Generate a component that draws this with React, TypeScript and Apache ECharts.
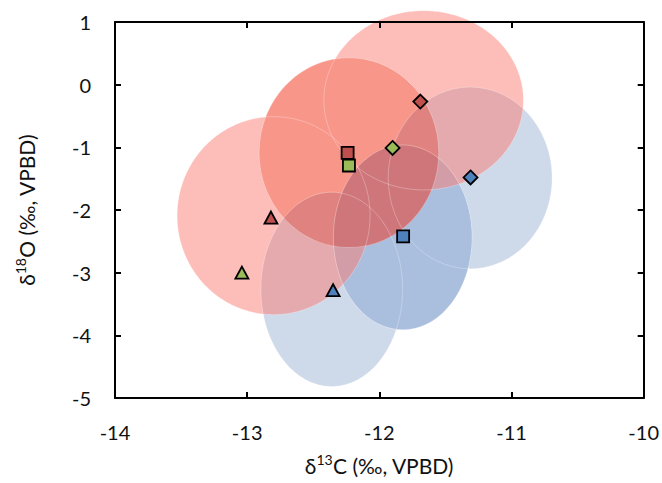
import { useEffect, useRef } from "react";
import * as echarts from "echarts";

// Marker positions (δ13C, δ18O)
const shapes = ["triangle", "rect", "diamond"];
const redPoints = [
  [-12.82, -2.12],
  [-12.24, -1.09],
  [-11.69, -0.27],
];
const greenPoints = [
  [-13.04, -3.0],
  [-12.23, -1.29],
  [-11.9, -1.01],
];
const bluePoints = [
  [-12.35, -3.28],
  [-11.82, -2.42],
  [-11.31, -1.48],
];

// Ellipses: centre x, centre y, semi-axis x, semi-axis y (data units)
const redEllipses = [
  [-12.8, -2.09, 0.73, 1.58],
  [-12.23, -1.085, 0.68, 1.515],
  [-11.665, -0.25, 0.755, 1.43],
];
const blueEllipses = [
  [-12.36, -3.266, 0.536, 1.55],
  [-11.823, -2.437, 0.525, 1.475],
  [-11.313, -1.488, 0.62, 1.45],
];
// index of the ellipse drawn on top inside each group
const TOP = 1;

const RED_ALPHA = 0.5;
const RED_LIGHT = "rgb(251,123,113)";
const RED_DARK = "rgb(241,45,21)";
const BLUE_LIGHT = "#CED9EA";
const BLUE_DARK = "#AABEDE";

const FONT = "Lato, 'Open Sans', sans-serif";

type E = { cx: number; cy: number; rx: number; ry: number };

function toPx(api: any, e: number[]): E {
  const c = api.coord([e[0], e[1]]);
  const s = api.size([e[2], e[3]]);
  return { cx: c[0], cy: c[1], rx: s[0], ry: s[1] };
}
function inside(m: E, p: number[]) {
  const dx = (p[0] - m.cx) / m.rx;
  const dy = (p[1] - m.cy) / m.ry;
  return dx * dx + dy * dy < 1;
}
function sample(e: E, n = 360) {
  const pts: number[][] = [];
  for (let i = 0; i < n; i++) {
    const t = (2 * Math.PI * i) / n;
    pts.push([e.cx + e.rx * Math.cos(t), e.cy + e.ry * Math.sin(t)]);
  }
  return pts;
}
function arc(pts: number[][], keep: (p: number[]) => boolean) {
  const n = pts.length;
  const f = pts.map(keep);
  if (f.every((v) => v)) return pts;
  if (!f.some((v) => v)) return [];
  const start = f.findIndex((v, i) => v && !f[(i - 1 + n) % n]);
  const out: number[][] = [];
  let i = start;
  while (f[i]) {
    out.push(pts[i]);
    i = (i + 1) % n;
    if (i === start) break;
  }
  return out;
}
// part of ellipse e lying outside ellipse m
function crescent(e: E, m: E) {
  const a = arc(sample(e), (p) => !inside(m, p));
  if (a.length === 360 || a.length === 0) return a;
  const b = arc(sample(m), (p) => inside(e, p));
  if (b.length) {
    const last = a[a.length - 1];
    const d0 = Math.hypot(b[0][0] - last[0], b[0][1] - last[1]);
    const d1 = Math.hypot(b[b.length - 1][0] - last[0], b[b.length - 1][1] - last[1]);
    if (d1 < d0) b.reverse();
  }
  return a.concat(b);
}

function groupSeries(ells: number[][], light: string, dark: string, alpha: number, z: number) {
  return {
    type: "custom",
    clip: false,
    silent: true,
    z,
    data: ells,
    renderItem: (params: any, api: any) => {
      const e = toPx(api, [api.value(0), api.value(1), api.value(2), api.value(3)]);
      if (params.dataIndex === TOP) {
        return {
          type: "ellipse",
          z2: 10,
          shape: e,
          style: { fill: dark, opacity: alpha },
        };
      }
      const m = toPx(api, ells[TOP]);
      return {
        type: "polygon",
        shape: { points: crescent(e, m) },
        style: { fill: light, opacity: alpha },
      };
    },
  };
}

function seamSeries(ells: number[][]) {
  return {
    type: "custom",
    clip: false,
    silent: true,
    z: 4,
    data: ells,
    renderItem: (params: any, api: any) => {
      const e = toPx(api, [api.value(0), api.value(1), api.value(2), api.value(3)]);
      return {
        type: "ellipse",
        shape: e,
        style: { fill: "none", stroke: "rgba(255,255,255,0.35)", lineWidth: 0.8 },
      };
    },
  };
}

function markerSeries(points: number[][], color: string) {
  return {
    type: "scatter",
    z: 6,
    data: points.map((p, i) => ({
      value: p,
      symbol: shapes[i],
      symbolSize: i === 0 ? [13, 12] : i === 1 ? 12 : [14, 14],
    })),
    itemStyle: { color, borderColor: "#000", borderWidth: 1.8, opacity: 1 },
  };
}

const axisLine = { show: true, onZero: false, lineStyle: { color: "#000", width: 2 } };
const axisTick = { show: true, inside: true, length: 6, lineStyle: { color: "#000", width: 2 } };

export default function App() {
  const ref = useRef<HTMLDivElement>(null);
  useEffect(() => {
    if (!ref.current) return;
    const chart = echarts.init(ref.current, null, { renderer: "svg" });
    const nameStyle = {
      fontSize: 21,
      fontFamily: FONT,
      color: "#111",
      rich: {
        a: { fontSize: 21, fontFamily: FONT, color: "#111", lineHeight: 26 },
        sup: {
          fontSize: 14,
          fontFamily: FONT,
          color: "#111",
          verticalAlign: "top",
          lineHeight: 26,
        },
      },
    };
    const labelStyle = { fontSize: 20, fontFamily: FONT, color: "#111", margin: 24 };
    chart.setOption({
      animation: false,
      grid: { left: 115, top: 22, right: 17, bottom: 85 },
      xAxis: [
        {
          type: "value",
          min: -14,
          max: -10,
          interval: 1,
          position: "bottom",
          axisLine,
          axisTick,
          splitLine: { show: false },
          axisLabel: labelStyle,
          name: "{a|δ}{sup|13}{a|C (‰, VPBD)}",
          nameLocation: "middle",
          nameGap: 54,
          nameTextStyle: nameStyle,
          z: 5,
        },
        {
          type: "value",
          min: -14,
          max: -10,
          interval: 1,
          position: "top",
          axisLine,
          axisTick,
          splitLine: { show: false },
          axisLabel: { show: false },
          z: 5,
        },
      ],
      yAxis: [
        {
          type: "value",
          min: -5,
          max: 1,
          interval: 1,
          position: "left",
          axisLine,
          axisTick,
          splitLine: { show: false },
          axisLabel: labelStyle,
          name: "{a|δ}{sup|18}{a|O (‰, VPBD)}",
          nameLocation: "middle",
          nameRotate: 90,
          nameGap: 76,
          nameTextStyle: nameStyle,
          z: 5,
        },
        {
          type: "value",
          min: -5,
          max: 1,
          interval: 1,
          position: "right",
          axisLine,
          axisTick,
          splitLine: { show: false },
          axisLabel: { show: false },
          z: 5,
        },
      ],
      series: [
        groupSeries(blueEllipses, BLUE_LIGHT, BLUE_DARK, 1, 1),
        groupSeries(redEllipses, RED_LIGHT, RED_DARK, RED_ALPHA, 2),
        seamSeries([...blueEllipses, ...redEllipses]),
        markerSeries(bluePoints, "#4F81BD"),
        markerSeries(redPoints, "#C0504D"),
        markerSeries(greenPoints, "#9BBB59"),
      ],
    });
    return () => chart.dispose();
  }, []);
  return (
    <div
      ref={ref}
      style={{ position: "fixed", left: 0, top: 0, width: 662, height: 483, background: "#fff" }}
    />
  );
}
